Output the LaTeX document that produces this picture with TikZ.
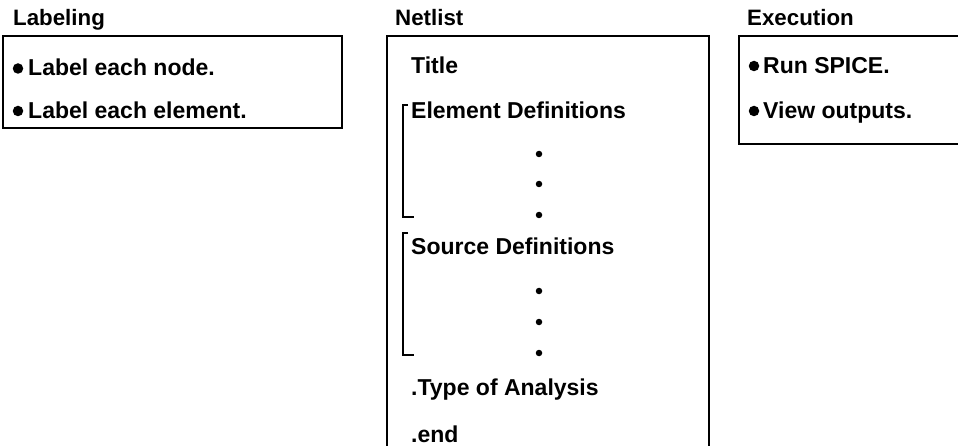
\documentclass[tikz,border=0pt]{standalone}
\usepackage{fontspec}
\setmainfont{Liberation Sans}
\begin{document}
\begin{tikzpicture}[x=1pt,y=-1pt,
  frame/.style={line width=1.6pt,draw=black},
  heading/.style={anchor=base west,inner sep=0pt,font=\bfseries\fontsize{22.3}{26}\selectfont},
  entry/.style={anchor=base west,inner sep=0pt,font=\bfseries\fontsize{23}{27}\selectfont},
  bul/.style={circle,fill=black,inner sep=0pt,minimum size=10.5pt},
  vdot/.style={circle,fill=black,inner sep=0pt,minimum size=6.5pt},
  brack/.style={line width=1.4pt,draw=black}]
\useasboundingbox (0,0) rectangle (958,446);
\begin{scope}
\clip (0,0) rectangle (958,446);
% headings
\node[heading] (hlab) at (13,26) {Labeling};
\node[heading] (hnet) at (395,26) {Netlist};
\node[heading] (hexe) at (747,26) {Execution};
% frames
\draw[frame] (3,36) rectangle (342,128);
\draw[frame] (387,460) -- (387,36) -- (709,36) -- (709,460);
\draw[frame] (970,36) -- (739,36) -- (739,144) -- (970,144);
% labeling
\node[bul] (b1) at (18,68.5) {};
\node[entry] (l1) at (28,76) {Label each node.};
\node[bul] (b2) at (18,111) {};
\node[entry] (l2) at (28,118.5) {Label each element.};
% execution
\node[bul] (b3) at (754,66) {};
\node[entry] (e1) at (763,73.5) {Run SPICE.};
\node[bul] (b4) at (754,111) {};
\node[entry] (e2) at (763,118.5) {View outputs.};
% netlist
\node[entry] (n1) at (411,73.5) {Title};
\node[entry] (n2) at (411,118.5) {Element Definitions};
\node[vdot] (d1) at (539,154) {};
\node[vdot] (d2) at (539,184) {};
\node[vdot] (d3) at (539,215) {};
\node[entry] (n3) at (411,255) {Source Definitions};
\node[vdot] (d4) at (539,291) {};
\node[vdot] (d5) at (539,322) {};
\node[vdot] (d6) at (539,353) {};
\node[entry] (n4) at (411,395) {.Type of Analysis};
\node[entry] (n5) at (411,442) {.end};
% brackets
\draw[brack] (408,105) -- (403,105) -- (403,217) -- (414,217);
\draw[brack] (408,233) -- (403,233) -- (403,355) -- (414,355);
\end{scope}
\end{tikzpicture}
\end{document}
